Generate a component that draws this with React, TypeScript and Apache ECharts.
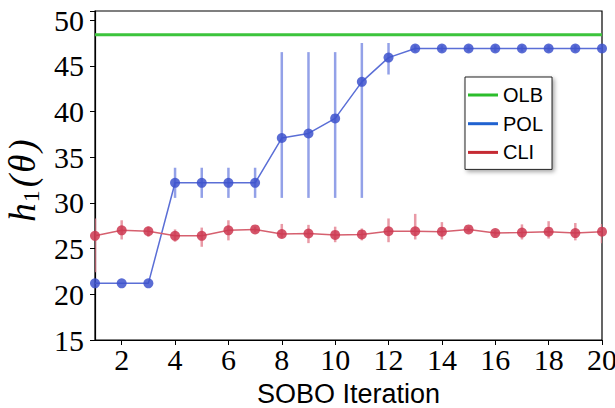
import React, { useEffect, useRef } from "react";
import * as echarts from "echarts";

const iterations = [1, 2, 3, 4, 5, 6, 7, 8, 9, 10, 11, 12, 13, 14, 15, 16, 17, 18, 19, 20];
const olbValue = 48.4;
const polMean = [21.2, 21.2, 21.2, 32.2, 32.2, 32.2, 32.2, 37.1, 37.6, 39.25, 43.25, 45.9, 46.9, 46.9, 46.9, 46.9, 46.9, 46.9, 46.9, 46.9];
const polLow = [21.2, 21.2, 21.2, 30.55, 30.55, 30.55, 30.55, 30.55, 30.55, 30.55, 30.55, 44.05, 46.55, 46.55, 46.55, 46.55, 46.55, 46.55, 46.55, 46.55];
const polHigh = [21.2, 21.2, 21.2, 33.85, 33.85, 33.85, 33.85, 46.5, 46.5, 46.5, 47.5, 47.5, 47.25, 47.25, 47.25, 47.25, 47.25, 47.25, 47.25, 47.25];
const cliMean = [26.4, 27.0, 26.9, 26.4, 26.4, 27.0, 27.1, 26.6, 26.65, 26.5, 26.55, 26.9, 26.9, 26.85, 27.1, 26.7, 26.75, 26.85, 26.7, 26.85];
const cliLow = [22.4, 26.0, 26.3, 25.75, 25.2, 25.9, 26.8, 26.2, 25.6, 25.7, 25.9, 25.7, 26.0, 26.0, 26.8, 26.4, 26.0, 26.1, 25.9, 25.6];
const cliHigh = [28.3, 28.1, 27.4, 27.1, 27.3, 28.1, 27.4, 27.7, 27.6, 27.4, 27.2, 28.3, 28.8, 27.9, 27.4, 27.0, 27.65, 28.0, 27.8, 27.7];
const xTicks = [2, 4, 6, 8, 10, 12, 14, 16, 18, 20];
const seriesNames = ["OLB", "POL", "CLI"];

const errRender = (color: string) => (params: any, api: any) => {
  const x = api.value(0);
  const p1 = api.coord([x, api.value(1)]);
  const p2 = api.coord([x, api.value(2)]);
  return {
    type: "line",
    shape: { x1: p1[0], y1: p1[1], x2: p2[0], y2: p2[1] },
    style: { stroke: color, lineWidth: 2.5 },
  };
};

export default function App() {
  const ref = useRef<HTMLDivElement>(null);
  useEffect(() => {
    if (!ref.current) return;
    const chart = echarts.init(ref.current, undefined, { renderer: "svg" });
    const serif = "Liberation Serif";
    const it = { fontFamily: serif, fontStyle: "italic", fontSize: 37, color: "#000", lineHeight: 42 };
    chart.setOption({
      animation: false,
      grid: {
        left: 95, right: 13, top: 11, bottom: 68,
        show: true, borderColor: "#000", borderWidth: 1.2,
        containLabel: false, outerBoundsMode: "none",
      },
      legend: {
        orient: "vertical",
        left: 465,
        top: 77,
        padding: [8, 9, 7, 3],
        itemGap: 8.7,
        itemWidth: 30,
        itemHeight: 3,
        backgroundColor: "#fff",
        borderColor: "#222",
        borderWidth: 1,
        shadowColor: "rgba(0,0,0,0.35)",
        shadowBlur: 4,
        shadowOffsetX: 2,
        shadowOffsetY: 2,
        textStyle: { fontFamily: "Liberation Sans", fontSize: 20, color: "#000" },
        data: [
          { name: seriesNames[0], icon: "rect", itemStyle: { color: "#2bbd2b", opacity: 1 } },
          { name: seriesNames[1], icon: "rect", itemStyle: { color: "#2062d0", opacity: 1 } },
          { name: seriesNames[2], icon: "rect", itemStyle: { color: "#c52a33", opacity: 1 } },
        ],
      },
      xAxis: {
        type: "value",
        min: 1,
        max: 20,
        name: "SOBO Iteration",
        nameLocation: "middle",
        nameGap: 40,
        nameTextStyle: { fontFamily: "Liberation Sans", fontSize: 27, color: "#000" },
        axisLine: { show: true, lineStyle: { color: "#000", width: 1.2 } },
        axisTick: { show: true, length: 5, customValues: xTicks, lineStyle: { color: "#000" } },
        axisLabel: { customValues: xTicks, fontFamily: serif, fontSize: 30, color: "#000", margin: 4 },
        splitLine: { show: false },
      },
      yAxis: {
        type: "value",
        min: 15,
        max: 51,
        interval: 5,
        name: "{h|h}{s|1}{p|(}{t|θ}{q|)}",
        nameLocation: "middle",
        nameGap: 45,
        nameTextStyle: {
          rich: {
            h: { ...it, padding: [0, 1, 0, 0] },
            s: { fontFamily: serif, fontSize: 24, color: "#000", verticalAlign: "bottom", lineHeight: 30, padding: [0, 3, 0, 0] },
            p: { ...it, padding: [0, 2, 0, 0] },
            t: { ...it, padding: [0, 3, 0, 0] },
            q: { ...it, padding: [0, 10, 0, 0] },
          },
        },
        axisLine: { show: true, lineStyle: { color: "#000", width: 1.2 } },
        axisTick: { show: true, length: 5, lineStyle: { color: "#000" } },
        axisLabel: {
          fontFamily: serif,
          fontSize: 30,
          color: "#000",
          margin: 11,
          formatter: (v: number) => (v % 5 === 0 ? String(v) : ""),
        },
        splitLine: { show: false },
      },
      series: [
        {
          name: seriesNames[0],
          type: "line",
          data: [[iterations[0], olbValue], [iterations[iterations.length - 1], olbValue]],
          showSymbol: false,
          symbol: "none",
          lineStyle: { color: "#3cc43c", width: 3 },
          itemStyle: { color: "#3cc43c" },
          z: 3,
        },
        {
          name: "POL-err",
          type: "custom",
          renderItem: errRender("rgba(120,138,226,0.8)"),
          data: iterations.map((x, i) => [x, polLow[i], polHigh[i]]),
          encode: { x: 0, y: [1, 2] },
          z: 1,
          clip: true,
        },
        {
          name: "CLI-err",
          type: "custom",
          renderItem: errRender("rgba(226,120,136,0.75)"),
          data: iterations.map((x, i) => [x, cliLow[i], cliHigh[i]]),
          encode: { x: 0, y: [1, 2] },
          z: 1,
          clip: true,
        },
        {
          name: seriesNames[1],
          type: "line",
          data: iterations.map((x, i) => [x, polMean[i]]),
          symbol: "circle",
          symbolSize: 10,
          clip: false,
          lineStyle: { color: "#5a6ed6", width: 1.5 },
          itemStyle: { color: "#3d52cc", opacity: 0.85 },
          z: 2,
        },
        {
          name: seriesNames[2],
          type: "line",
          data: iterations.map((x, i) => [x, cliMean[i]]),
          symbol: "circle",
          symbolSize: 10,
          clip: false,
          lineStyle: { color: "#d6606f", width: 1.5 },
          itemStyle: { color: "#cc3750", opacity: 0.85 },
          z: 2,
        },
      ],
    });
    return () => chart.dispose();
  }, []);
  return <div ref={ref} style={{ width: 615, height: 408, position: "absolute", left: 0, top: 0 }} />;
}
